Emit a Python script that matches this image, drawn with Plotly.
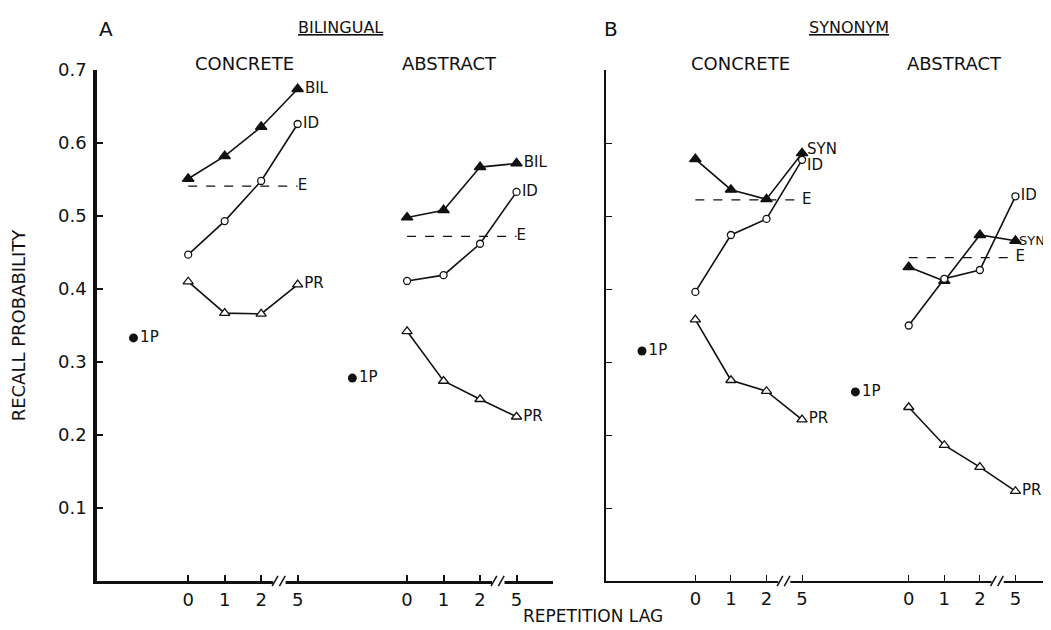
import plotly.graph_objects as go

# ---------------- data ----------------
lag_pos = [0, 1, 2, 3]          # plotting slots for lags 0,1,2,5 (concrete)
abs_pos = [6, 7, 8, 9]          # slots for abstract lags
lag_labels = ["0", "1", "2", "5"]
onep_pos = [-1.5, 4.5]

# Panel A: Bilingual
bil_conc_BIL = [0.551, 0.582, 0.622, 0.674]
bil_conc_ID = [0.447, 0.493, 0.548, 0.626]
bil_conc_PR = [0.410, 0.367, 0.366, 0.406]
bil_conc_E = 0.541
bil_abs_BIL = [0.498, 0.508, 0.567, 0.572]
bil_abs_ID = [0.411, 0.419, 0.462, 0.533]
bil_abs_PR = [0.342, 0.274, 0.249, 0.225]
bil_abs_E = 0.472
bil_1P = [0.333, 0.278]

# Panel B: Synonym
syn_conc_SYN = [0.578, 0.536, 0.523, 0.586]
syn_conc_ID = [0.396, 0.474, 0.496, 0.577]
syn_conc_PR = [0.358, 0.275, 0.260, 0.221]
syn_conc_E = 0.522
syn_abs_SYN = [0.430, 0.411, 0.474, 0.466]
syn_abs_ID = [0.350, 0.414, 0.426, 0.527]
syn_abs_PR = [0.238, 0.186, 0.156, 0.123]
syn_abs_E = 0.443
syn_1P = [0.315, 0.259]

y_ticks = [0.1, 0.2, 0.3, 0.4, 0.5, 0.6, 0.7]

FONT = "DejaVu Sans"
BLACK = "#111111"
LBL = 15

fig = go.Figure()


def series(xs, ys, label, sym, size, xa, ya, fill, labels=None):
    txt = labels if labels is not None else ["", "", "", label]
    fig.add_trace(go.Scatter(
        x=xs, y=ys, mode="lines+markers+text",
        line=dict(color=BLACK, width=1.6),
        marker=dict(symbol=sym, size=size, color=fill,
                    line=dict(color=BLACK, width=1.3)),
        text=txt, textposition="middle right",
        textfont=dict(family=FONT, size=LBL, color=BLACK),
        xaxis=xa, yaxis=ya, showlegend=False, cliponaxis=False))


def eline(x0, x1, val, xa, ya):
    fig.add_trace(go.Scatter(
        x=[x0, x1], y=[val, val], mode="lines+text",
        line=dict(color=BLACK, width=1.2, dash="dash"),
        text=["", "E"], textposition="middle right",
        textfont=dict(family=FONT, size=LBL, color=BLACK),
        xaxis=xa, yaxis=ya, showlegend=False, cliponaxis=False))


def onep(xs, ys, xa, ya):
    fig.add_trace(go.Scatter(
        x=xs, y=ys, mode="markers+text",
        marker=dict(symbol="circle", size=9, color=BLACK),
        text=["1P"] * len(xs), textposition="middle right",
        textfont=dict(family=FONT, size=LBL, color=BLACK),
        xaxis=xa, yaxis=ya, showlegend=False, cliponaxis=False))


for xa, ya, d in [
    ("x", "y", dict(cB=bil_conc_BIL, cI=bil_conc_ID, cP=bil_conc_PR, cE=bil_conc_E,
                    aB=bil_abs_BIL, aI=bil_abs_ID, aP=bil_abs_PR, aE=bil_abs_E,
                    p=bil_1P, name="BIL")),
    ("x2", "y2", dict(cB=syn_conc_SYN, cI=syn_conc_ID, cP=syn_conc_PR, cE=syn_conc_E,
                      aB=syn_abs_SYN, aI=syn_abs_ID, aP=syn_abs_PR, aE=syn_abs_E,
                      p=syn_1P, name="SYN")),
]:
    eline(lag_pos[0], lag_pos[-1], d["cE"], xa, ya)
    eline(abs_pos[0], abs_pos[-1], d["aE"], xa, ya)
    if d["name"] == "SYN":
        series(lag_pos, d["cI"], "", "circle", 7, xa, ya, "white",
               labels=["", "", "", ""])
        fig.add_annotation(x=lag_pos[-1], y=d["cI"][-1], text="ID", xref=xa, yref=ya,
                           xanchor="left", yanchor="top", xshift=3, yshift=6,
                           showarrow=False, font=dict(family=FONT, size=LBL, color=BLACK))
        series(lag_pos, d["cB"], "", "triangle-up", 10, xa, ya, BLACK,
               labels=["", "", "", ""])
        fig.add_annotation(x=lag_pos[-1], y=d["cB"][-1], text="SYN", xref=xa, yref=ya,
                           xanchor="left", yanchor="bottom", xshift=3, yshift=-7,
                           showarrow=False, font=dict(family=FONT, size=LBL, color=BLACK))
        series(abs_pos, d["aB"], "", "triangle-up", 10, xa, ya, BLACK,
               labels=["", "", "", ""])
        fig.add_annotation(x=abs_pos[-1], y=d["aB"][-1], text="SYN", xref=xa, yref=ya,
                           xanchor="left", yanchor="middle", xshift=2,
                           showarrow=False, font=dict(family=FONT, size=13, color=BLACK))
    else:
        series(lag_pos, d["cI"], "ID", "circle", 7, xa, ya, "white")
        series(lag_pos, d["cB"], d["name"], "triangle-up", 10, xa, ya, BLACK)
        series(abs_pos, d["aB"], d["name"], "triangle-up", 10, xa, ya, BLACK)
    series(lag_pos, d["cP"], "PR", "triangle-up", 9, xa, ya, "white")
    series(abs_pos, d["aI"], "ID", "circle", 7, xa, ya, "white")
    series(abs_pos, d["aP"], "PR", "triangle-up", 9, xa, ya, "white")
    onep(onep_pos, d["p"], xa, ya)

xcommon = dict(range=[-2.5, 10], tickvals=lag_pos + abs_pos,
               ticktext=lag_labels + lag_labels, ticks="inside", ticklen=6,
               tickcolor=BLACK, showgrid=False, zeroline=False, showline=True,
               linecolor=BLACK, tickfont=dict(family=FONT, size=18, color=BLACK),
               fixedrange=True)
ycommon = dict(range=[0, 0.7], tickvals=y_ticks, ticks="inside", ticklen=6,
               tickcolor=BLACK, showgrid=False, zeroline=False, showline=True,
               linecolor=BLACK, fixedrange=True)

fig.update_layout(
    width=1051, height=630,
    margin=dict(l=89, r=8, t=62, b=57),
    paper_bgcolor="white", plot_bgcolor="white",
    xaxis=dict(domain=[0, 0.478], anchor="y", linewidth=3, tickwidth=1.5, **xcommon),
    xaxis2=dict(domain=[0.534, 1], anchor="y2", linewidth=2, tickwidth=1.2, **xcommon),
    yaxis=dict(domain=[0, 1], anchor="x", linewidth=3.5, tickwidth=1.5,
               tickformat=".1f", ticklabelstandoff=3,
               tickfont=dict(family=FONT, size=18, color=BLACK),
               title=dict(text="RECALL PROBABILITY", standoff=30,
                          font=dict(family=FONT, size=18, color=BLACK)),
               **ycommon),
    yaxis2=dict(domain=[0, 1], anchor="x2", linewidth=2, tickwidth=1.2,
                showticklabels=False, **ycommon),
    font=dict(family=FONT, color=BLACK),
)

# axis breaks between lag 2 and lag 5
for xr in ["x", "x2"]:
    for bx in [2.5, 8.5]:
        fig.add_shape(type="line", xref=xr, yref="paper", x0=bx - 0.17, x1=bx + 0.17,
                      y0=0, y1=0, line=dict(color="white", width=6), layer="above")
        for off in [-0.12, 0.08]:
            fig.add_shape(type="line", xref=xr, yref="paper",
                          x0=bx + off - 0.08, x1=bx + off + 0.08,
                          y0=-0.01, y1=0.01, line=dict(color=BLACK, width=1.5),
                          layer="above")


def header(text, x, y, size, underline=False):
    t = f"<u>{text}</u>" if underline else text
    fig.add_annotation(text=t, x=x, y=y, xref="paper", yref="paper",
                       showarrow=False, xanchor="center", yanchor="middle",
                       font=dict(family=FONT, size=size, color=BLACK))


# pixel-to-paper helpers (plot area: x 89..1043, y 62..573)
px = lambda p: (p - 89) / 954
py = lambda p: (573 - p) / 511

header("A", px(98), py(21), 20)
header("BILINGUAL", px(332), py(20), 16, underline=True)
header("CONCRETE", px(236), py(56), 18)
header("ABSTRACT", px(441), py(56), 18)
header("B", px(603), py(21), 20)
header("SYNONYM", px(841), py(20), 16, underline=True)
header("CONCRETE", px(732), py(56), 18)
header("ABSTRACT", px(946), py(56), 18)
header("REPETITION LAG", px(585), py(608), 17)

fig.write_html("out.html")
